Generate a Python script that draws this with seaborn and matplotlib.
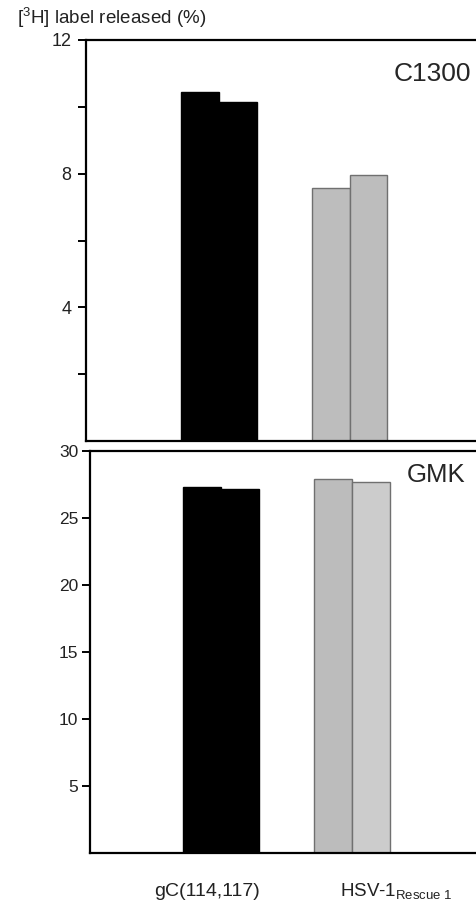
import matplotlib
matplotlib.use("Agg")
import matplotlib.pyplot as plt
import seaborn as sns
import pandas as pd

# Release of [3H] label per cell line, two replicates per virus
groups = ["gC(114,117)", "gC(114,117)", "HSV-1 Rescue 1", "HSV-1 Rescue 1"]
replicates = ["1", "2", "1", "2"]
c1300_values = [10.45, 10.15, 7.57, 7.95]
gmk_values = [27.35, 27.2, 27.93, 27.72]
c1300_colors = ["#000000", "#000000", "#bdbdbd", "#bdbdbd"]
gmk_colors = ["#000000", "#000000", "#bcbcbc", "#cccccc"]

c1300_ticks = [2, 4, 6, 8, 10, 12]
c1300_ticklabels = ["", "4", "", "8", "", "12"]
gmk_ticks = [5, 10, 15, 20, 25, 30]
gmk_ticklabels = ["5", "10", "15", "20", "25", "30"]

sns.set_style("white")
plt.rcParams["font.family"] = ["Liberation Sans", "DejaVu Sans"]
plt.rcParams["mathtext.fontset"] = "custom"
plt.rcParams["mathtext.rm"] = "Liberation Sans"
plt.rcParams["mathtext.it"] = "Liberation Sans"

W, H = 477, 906
fig = plt.figure(figsize=(W / 100, H / 100), dpi=100)
ax_top = fig.add_axes([86 / W, 1 - 441 / H, (W - 86) / W, 401 / H])
ax_bot = fig.add_axes([90 / W, 1 - 853 / H, (W - 90) / W, 402 / H])


def draw_panel(ax, values, colors, labelsize, pad):
    df = pd.DataFrame({"group": groups, "rep": replicates, "value": values})
    sns.barplot(data=df, x="group", y="value", hue="rep", ax=ax,
                width=0.58, legend=False, errorbar=None, dodge=True)
    for h, cont in enumerate(ax.containers):
        for i, bar in enumerate(cont):
            c = colors[i * 2 + h]
            bar.set_facecolor(c)
            bar.set_edgecolor("#000000" if c == "#000000" else "#707070")
            bar.set_linewidth(1.0)
    for side in ["left", "top", "bottom"]:
        ax.spines[side].set_visible(True)
        ax.spines[side].set_linewidth(1.6)
        ax.spines[side].set_color("#000000")
    ax.spines["right"].set_visible(False)
    ax.set_xlabel("")
    ax.set_ylabel("")
    ax.set_xticks([])
    ax.tick_params(axis="y", direction="out", length=6, width=1.4,
                   color="#000000", labelsize=labelsize, labelcolor="#222222",
                   pad=pad, left=True)


draw_panel(ax_top, c1300_values, c1300_colors, 13, 4.5)
ax_top.set_xlim(-1.02, -1.02 + 391 / 130.5)
ax_top.set_ylim(0, 12)
ax_top.set_yticks(c1300_ticks)
ax_top.set_yticklabels(c1300_ticklabels)
ax_top.text(0.985, 0.915, "C1300", transform=ax_top.transAxes,
            ha="right", va="center", fontsize=19)

draw_panel(ax_bot, gmk_values, gmk_colors, 12.5, 2.5)
ax_bot.set_xlim(-1.0, -1.0 + 387 / 131)
ax_bot.set_ylim(0, 30)
ax_bot.set_yticks(gmk_ticks)
ax_bot.set_yticklabels(gmk_ticklabels)
ax_bot.text(0.97, 0.94, "GMK", transform=ax_bot.transAxes,
            ha="right", va="center", fontsize=18.5)

fig.text(17 / W, 1 - 18 / H, r"[$^{3}$H] label released (%)",
         ha="left", va="center", fontsize=13.5, color="#222222")
fig.text(207 / W, 1 - 892 / H, "gC(114,117)", ha="center", va="center",
         fontsize=14, color="#222222")
fig.text(340 / W, 1 - 891 / H, r"HSV-1$_{\mathrm{Rescue\ 1}}$",
         ha="left", va="center", fontsize=13.5, color="#222222")

fig.savefig("out.png", dpi=100)
